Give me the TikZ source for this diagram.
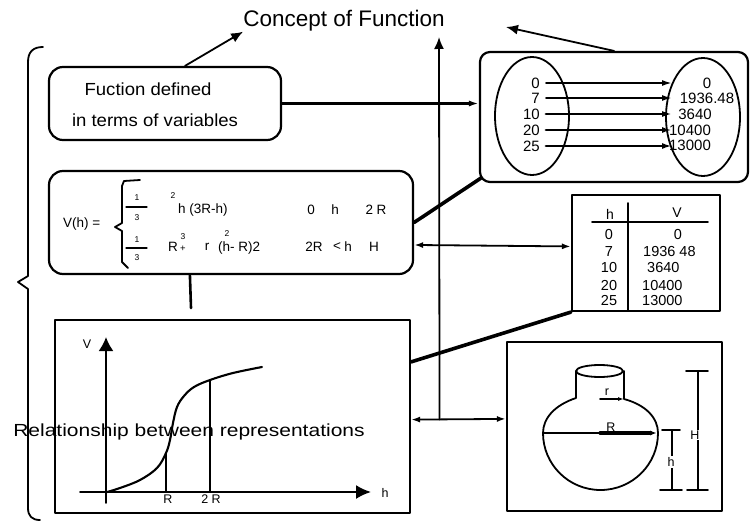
\documentclass[tikz,border=0pt]{standalone}
\usepackage{fontspec}
\setmainfont{Liberation Sans}
\usetikzlibrary{arrows.meta,calc,shapes.geometric}
\begin{document}
\begin{tikzpicture}[x=1pt,y=-1pt,line cap=round,line join=round,
  ln/.style={line width=1.8pt},
  thk/.style={line width=3.6pt},
  rbox/.style={draw,line width=2.2pt,rounded corners=14pt,inner sep=0pt},
  sbox/.style={draw,line width=2.2pt,inner sep=0pt},
  ell/.style={draw,ellipse,line width=1.8pt,inner sep=0pt},
  bigarr/.style={-{Latex[length=12pt,width=10pt]}},
  marr/.style={-{Latex[length=10pt,width=6pt]}},
  txt/.style={inner sep=0pt},
  ft/.style={font=\fontsize{#1}{#1}\selectfont}]
\useasboundingbox (0,0) rectangle (751,521);

% title
\node[txt,ft=22.5] (title) at (344,21) {Concept of Function};

% left brace
\draw[ln] (43,47) .. controls (33,47) and (28,52) .. (28,62) -- (28,276) -- (18,282) -- (28,289) -- (28,508) .. controls (28,516) and (32,520) .. (40,520);
\node[txt,ft=17.5] (rel) at (189,432) {\scalebox{1.2}[1]{Relationship between representations}};

% box 1
\node[rbox,minimum width=232pt,minimum height=73pt] (box1) at (165,103.5) {};
\node[txt,ft=17.5] (b1a) at (148,89) {\scalebox{1.06}[1]{Fuction defined}};
\node[txt,ft=17.5] (b1b) at (155,120) {\scalebox{1.06}[1]{in terms of variables}};

% box 2 (formula)
\node[rbox,minimum width=364pt,minimum height=103pt] (box2) at (231,222.5) {};
\node[txt,ft=13.5,anchor=west] (fv) at (63,224) {V(h) =};
\draw[ln] (140,180) -- (124,181) -- (122,186) -- (122,223) -- (115,227) -- (122,231) -- (122,262) -- (128,268);
\node[txt,ft=8.5] (n1) at (137,198) {1};
\draw[line width=1.3pt] (126,207) -- (147,207);
\node[txt,ft=8.5] (d1) at (137,218) {3};
\node[txt,ft=8.5] (n2) at (137,240) {1};
\draw[line width=1.3pt] (126,248) -- (147,248);
\node[txt,ft=8.5] (d2) at (137,258) {3};
\node[txt,ft=8.5] (s1) at (173,196) {2};
\node[txt,ft=13.5,anchor=west] (e1) at (178,210) {h (3R-h)};
\node[txt,ft=13.5] (c1a) at (311,210) {0};
\node[txt,ft=13.5] (c1b) at (335,210) {h};
\node[txt,ft=13.5] (c1c) at (376,210) {2 R};
\node[txt,ft=13.5,anchor=west] (e2a) at (168,247) {R};
\node[txt,ft=8.5] (s2) at (183,237) {3};
\node[txt,ft=9.5] (s3) at (183,249) {+};
\node[txt,ft=13.5] (e2b) at (207,247) {r};
\node[txt,ft=13.5,anchor=west] (e2c) at (218,248) {(h- R)2};
\node[txt,ft=8.5] (s4) at (227,234) {2};
\node[txt,ft=13.5] (c2a) at (314,247) {2R};
\node[txt,ft=13.5] (c2b) at (337,247) {<};
\node[txt,ft=13.5] (c2c) at (348,247) {h};
\node[txt,ft=13.5] (c2d) at (374,247) {H};

% mapping box
\node[rbox,rounded corners=10pt,minimum width=268pt,minimum height=130pt] (map) at (614,117) {};
\node[ell,minimum width=74pt,minimum height=118pt] (domL) at (532,116) {};
\node[ell,minimum width=74pt,minimum height=118pt] (domR) at (703,117) {};
\node[txt,ft=15,anchor=east] (l0) at (540,83) {0};
\node[txt,ft=15,anchor=east] (l1) at (540,98) {7};
\node[txt,ft=15,anchor=east] (l2) at (540,114) {10};
\node[txt,ft=15,anchor=east] (l3) at (540,130) {20};
\node[txt,ft=15,anchor=east] (l4) at (540,146) {25};
\node[txt,ft=15] (r0) at (707,83) {0};
\node[txt,ft=15] (r1) at (707,98) {1936.48};
\node[txt,ft=15] (r2) at (695,114) {3640};
\node[txt,ft=15] (r3) at (690,130) {10400};
\node[txt,ft=15] (r4) at (690,145) {13000};
\coordinate (ax) at (672,0);
\draw[ln,marr,shorten <=6pt] (l0.east) -- (l0.east -| ax);
\draw[ln,marr,shorten <=6pt] (l1.east) -- (l1.east -| ax);
\draw[line width=2.8pt,marr,shorten <=6pt] (l2.east) -- (l2.east -| ax);
\draw[line width=2.8pt,marr,shorten <=6pt] (l3.east) -- (l3.east -| ax);
\draw[line width=2.8pt,marr,shorten <=6pt] (l4.east) -- (l4.east -| ax);

% table
\node[sbox,minimum width=148pt,minimum height=116pt] (tab) at (646,253) {};
\node[txt,ft=14] (th) at (610,214) {h};
\node[txt,ft=14] (tv) at (677,213) {V};
\draw[ln] (592,222) -- (708,222);
\draw[ln] (628,203) -- (628,311);
\node[txt,ft=14.5] (t0) at (609,235) {0};
\node[txt,ft=14.5] (t1) at (609,252) {7};
\node[txt,ft=14.5] (t2) at (609,268) {10};
\node[txt,ft=14.5] (t3) at (609,286) {20};
\node[txt,ft=14.5] (t4) at (609,301) {25};
\node[txt,ft=14.5] (u0) at (678,235) {0};
\node[txt,ft=14.5,anchor=west] (u1) at (643,252) {1936 48};
\node[txt,ft=14.5,anchor=west] (u2) at (647,268) {3640};
\node[txt,ft=14.5,anchor=west] (u3) at (642,286) {10400};
\node[txt,ft=14.5,anchor=west] (u4) at (642,301) {13000};

% graph box
\node[sbox,minimum width=355pt,minimum height=193pt] (graph) at (232.5,416.5) {};
\draw[line width=1.9pt,-{Latex[length=14pt,width=15pt]}] (106,503) -- (106,337);
\draw[line width=1.9pt,-{Latex[length=15pt,width=14pt]}] (80,492) -- (371,492);
\node[txt,ft=12.5] (gv) at (87,344) {V};
\node[txt,ft=12.5] (gh) at (385,493) {h};
\draw[line width=2.1pt] plot[smooth,tension=0.6] coordinates {(107,492) (120,488) (140,480) (157,468) (166,453) (170,440) (173,423) (177,407) (184,396) (194,387) (210,380) (233,373) (262,367)};
\draw[line width=1.4pt] (166,492) -- (166,453);
\draw[line width=1.4pt] (210,492) -- (210,380);
\node[txt,ft=12.5] (gr) at (168,499) {R};
\node[txt,ft=12.5] (g2r) at (211,499) {2 R};

% bottle box
\node[sbox,minimum width=215pt,minimum height=169pt] (bot) at (614.5,426.5) {};
\draw[ln] (599.5,371) ellipse [x radius=23.5, y radius=6];
\draw[ln] (576,371) -- (576,398) .. controls (555,405) and (543,418) .. (543,433)
  arc[start angle=180,end angle=0,x radius=57.5,y radius=57]
  .. controls (658,418) and (646,405) .. (624,399) -- (624,371);
\draw[line width=1.6pt] (543,433) -- (600,433);
\draw[line width=3.2pt,-{Latex[length=7pt,width=5pt]}] (600,433) -- (657,433);
\node[txt,ft=12.5] (lR) at (611,427) {R};
\draw[line width=1.6pt,-{Latex[length=6pt,width=4pt]}] (600,399) -- (624,399);
\node[txt,ft=12.5] (lr) at (607,392) {r};
\draw[ln] (662,430) -- (680,430);
\draw[ln] (660,490) -- (682,490);
\draw[ln] (672,430) -- (672,490);
\node[txt,ft=12.5,fill=white,inner sep=1pt] (lh) at (671,462) {h};
\draw[ln] (686,371) -- (708,371);
\draw[ln] (687,490) -- (708,490);
\draw[ln] (698,371) -- (698,490);
\node[txt,ft=12.5,fill=white,inner sep=1pt] (lH) at (695,435) {H};

% connectors
\draw[ln,bigarr] (box1.62) -- (title.south west);
\coordinate (tipR) at (506,27);
\draw[ln,bigarr] (map.north) -- (tipR);
\draw[line width=2.4pt,marr] (box1.east) -- (box1.east -| map.west);
\draw[thk] (box2.east) -- ([shift={(2,-5)}]map.south west);
\draw[ln,{Latex[length=9pt,width=6pt]}-{Latex[length=9pt,width=6pt]}] (box2.-7.4) -- (tab.175);
\draw[thk] (tab.south west) -- (graph.17);
\draw[ln,{Latex[length=9pt,width=6pt]}-{Latex[length=9pt,width=6pt]}] (graph.-1) -- (bot.176.5);
\path (graph.-1) -- (bot.176.5) coordinate[pos=0.3] (j1);
\coordinate (tipV) at (439,37);
\draw[ln,bigarr] (j1) -- (tipV);
\coordinate (stub) at (191,308);
\draw[line width=2.6pt] (box2.232) -- (stub);
\end{tikzpicture}
\end{document}
